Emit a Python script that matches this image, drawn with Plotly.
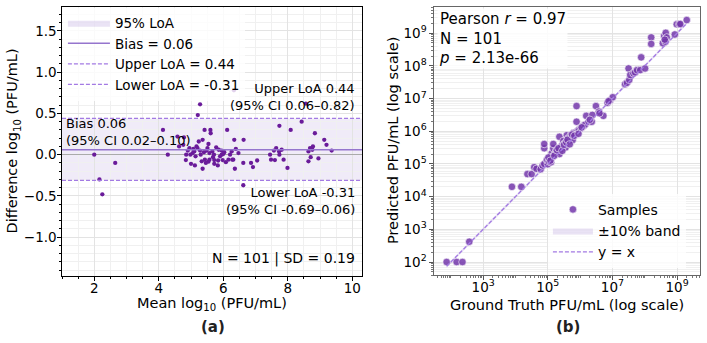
import plotly.graph_objects as go

# ---------------- Panel (a): Bland-Altman data ----------------
ba_mean = [2.00, 2.16, 2.25, 2.65, 4.13, 4.28, 4.58, 4.63, 4.76, 4.78, 4.84, 4.85, 4.90, 4.95,
           4.98, 5.00, 5.05, 5.07, 5.10, 5.12, 5.14, 5.17, 5.20, 5.21, 5.24, 5.28, 5.28, 5.30,
           5.33, 5.36, 5.36, 5.40, 5.42, 5.43, 5.46, 5.48, 5.51, 5.54, 5.54, 5.57, 5.57, 5.60,
           5.61, 5.66, 5.68, 5.71, 5.72, 5.72, 5.78, 5.83, 5.84, 5.86, 5.90, 5.95, 5.95, 5.98,
           6.03, 6.08, 6.12, 6.16, 6.21, 6.26, 6.28, 6.31, 6.33, 6.34, 6.36, 6.39, 6.47, 6.62,
           6.62, 6.63, 6.86, 6.92, 7.05, 7.45, 7.48, 7.57, 7.60, 7.64, 7.73, 7.74, 7.74, 7.81,
           7.87, 7.99, 8.09, 8.43, 8.56, 8.64, 8.64, 8.69, 8.71, 8.76, 8.78, 8.84, 8.95, 9.13,
           9.20, 9.36, 6.00]
ba_diff = [0.00, -0.30, -0.48, -0.10, 0.30, 0.00, 0.22, 0.10, 0.12, 0.21, -0.065, 0.00, 0.05, 0.08,
           0.00, -0.11, 0.02, 0.07, 0.04, -0.13, -0.02, 0.10, 0.08, 0.48, 0.16, 0.61, 0.05, 0.00,
           -0.08, 0.18, -0.17, 0.03, 0.30, -0.06, -0.10, 0.05, 0.08, 0.13, -0.085, 0.02, -0.06, 0.30,
           0.26, 0.04, -0.03, 0.00, -0.065, -0.11, 0.09, -0.13, -0.07, 0.06, -0.02, 0.05, 0.00, -0.065,
           0.03, -0.09, 0.30, -0.06, 0.00, 0.04, -0.06, -0.06, 0.78, 0.18, -0.17, 0.07, 0.02, -0.37,
           -0.10, 0.18, -0.10, -0.15, -0.07, 0.00, -0.06, 0.05, -0.065, 0.08, 0.04, 0.35, 0.00, 0.06,
           -0.06, -0.16, 0.30, 0.40, 0.62, 0.04, -0.08, 0.08, -0.03, 0.06, 0.10, 0.26, -0.045, 0.18,
           0.12, 0.05, 0.01]
bias = 0.06
upper_loa = 0.44
lower_loa = -0.31

# ---------------- Panel (b): scatter data (log10 PFU/mL) ----------------
gt_log10 = [1.87, 2.18, 2.36, 2.57, 3.89, 4.18, 4.37, 4.50, 4.58, 4.65, 4.78, 4.84, 4.89, 4.97,
            5.00, 5.03, 5.07, 5.10, 4.89, 4.89, 5.12, 5.15, 5.17, 5.17, 5.22, 5.26, 5.30, 5.36,
            5.36, 5.40, 5.43, 5.48, 5.52, 5.55, 5.59, 5.63, 5.66, 5.71, 5.74, 5.77, 5.80, 5.85,
            5.88, 5.93, 5.89, 5.89, 5.97, 6.02, 6.10, 6.15, 6.19, 6.26, 6.36, 6.38, 6.49, 6.58,
            6.72, 6.85, 6.93, 7.01, 6.88, 7.39, 7.45, 7.52, 7.50, 7.55, 7.65, 7.70, 7.76, 7.86,
            7.89, 8.01, 8.20, 8.20, 8.56, 8.60, 8.65, 8.68, 8.64, 8.62, 8.93, 8.99, 9.07, 9.10,
            9.30, 5.02, 5.08, 5.20, 5.28, 5.33, 5.45, 5.50, 5.57, 5.61, 5.68, 5.75, 5.82, 5.95,
            6.05, 6.30, 6.60]
pred_log10 = [2.00, 2.00, 2.00, 2.62, 4.30, 4.30, 4.69, 4.69, 4.90, 4.85, 4.84, 4.95, 5.00, 5.12,
              4.99, 5.08, 5.15, 5.05, 5.48, 5.61, 5.32, 5.22, 5.48, 5.61, 5.30, 5.40, 5.35, 5.30,
              5.83, 5.45, 5.55, 5.70, 5.62, 5.50, 5.88, 5.78, 5.70, 5.88, 5.82, 5.73, 5.95, 5.90,
              5.98, 6.01, 6.29, 6.77, 6.05, 6.08, 6.16, 6.20, 6.47, 6.29, 6.29, 6.50, 6.77, 6.60,
              6.47, 6.87, 6.95, 7.04, 6.92, 7.44, 7.48, 7.57, 7.92, 7.72, 7.77, 7.80, 7.87, 7.87,
              8.26, 7.92, 8.87, 8.67, 8.69, 8.91, 9.01, 8.87, 8.74, 8.80, 8.96, 9.27, 9.27, 9.28,
              9.40, 5.20, 5.10, 5.25, 5.42, 5.48, 5.40, 5.58, 5.66, 5.74, 5.60, 5.90, 5.86, 5.92,
              6.12, 6.35, 6.55]

gt = [10 ** v for v in gt_log10]
pred = [10 ** v for v in pred_log10]

x_ticks_a = [2, 4, 6, 8, 10]
y_ticks_a = [-1.0, -0.5, 0.0, 0.5, 1.0, 1.5]
x_tick_exp_b = [3, 5, 7, 9]
y_tick_exp_b = [2, 3, 4, 5, 6, 7, 8, 9]

FONT = "DejaVu Sans"
PURPLE_DARK = "#6a1b9a"
PURPLE_PT = "rgba(115,55,170,0.85)"
PURPLE_LINE = "#9575cd"
PURPLE_DASH = "#a37ae3"
BAND = "rgba(150,115,205,0.14)"
GRID = "#e3e3e3"
GRID_MINOR = "#f0f0f0"
DASH = "4px,2px"

fig = go.Figure()

# Panel (a)
fig.add_trace(go.Scatter(x=ba_mean, y=ba_diff, mode="markers", xaxis="x", yaxis="y",
                         marker=dict(color=PURPLE_DARK, size=4.3), showlegend=False))
# legend proxy for the LoA band (drawn below as a shape)
fig.add_trace(go.Scatter(x=[None], y=[None], mode="lines", fill="toself", fillcolor="rgba(150,115,205,0.2)",
                         line=dict(width=0, color="rgba(0,0,0,0)"), xaxis="x", yaxis="y",
                         name="95% LoA", legend="legend", legendrank=1))

fig.add_shape(type="rect", xref="x domain", yref="y", x0=0, x1=1, y0=lower_loa, y1=upper_loa,
              fillcolor=BAND, line=dict(width=0), layer="below")
fig.add_shape(type="line", xref="x domain", yref="y", x0=0, x1=1, y0=bias, y1=bias,
              line=dict(color=PURPLE_LINE, width=1.5),
              showlegend=True, name=f"Bias = {bias:.2f}", legend="legend", legendrank=2)
fig.add_shape(type="line", xref="x domain", yref="y", x0=0, x1=1, y0=upper_loa, y1=upper_loa,
              line=dict(color=PURPLE_DASH, width=1.2, dash=DASH),
              showlegend=True, name=f"Upper LoA = {upper_loa:.2f}", legend="legend", legendrank=3)
fig.add_shape(type="line", xref="x domain", yref="y", x0=0, x1=1, y0=lower_loa, y1=lower_loa,
              line=dict(color=PURPLE_DASH, width=1.2, dash=DASH),
              showlegend=True, name=f"Lower LoA = {lower_loa:.2f}", legend="legend", legendrank=4)

# Panel (b)
lo, hi = min(gt), max(gt)
fig.add_trace(go.Scatter(x=gt, y=pred, mode="markers", xaxis="x2", yaxis="y2", name="Samples",
                         marker=dict(color=PURPLE_PT, size=7.5, line=dict(color="white", width=0.6)),
                         legend="legend2"))
fig.add_trace(go.Scatter(x=[lo, hi, hi, lo, lo], y=[lo * 0.9, hi * 0.9, hi * 1.1, lo * 1.1, lo * 0.9],
                         mode="lines", fill="toself", fillcolor="rgba(150,115,205,0.2)",
                         line=dict(width=0, color="rgba(0,0,0,0)"), xaxis="x2", yaxis="y2",
                         name="±10% band", legend="legend2"))
fig.add_trace(go.Scatter(x=[lo, hi], y=[lo, hi], mode="lines", xaxis="x2", yaxis="y2",
                         line=dict(color=PURPLE_DASH, width=1.3, dash=DASH), name="y = x",
                         legend="legend2"))

tickfont = dict(family=FONT, size=13.5, color="black")
titlefont = dict(family=FONT, size=14.5, color="black")

fig.update_layout(
    width=707, height=343, margin=dict(l=0, r=0, t=0, b=0),
    paper_bgcolor="white", plot_bgcolor="white",
    font=dict(family=FONT, color="black"),
    xaxis=dict(domain=[0.0877, 0.512], anchor="y", range=[1, 10.3],
               tickvals=x_ticks_a, ticks="outside", ticklen=3.5, tickcolor="black",
               ticklabelstandoff=-4,
               showline=True, linecolor="black", linewidth=1.3, mirror=True,
               showgrid=True, gridcolor=GRID, gridwidth=0.8, zeroline=False,
               minor=dict(dtick=0.5, ticks="outside", ticklen=2, tickcolor="black",
                          showgrid=True, gridcolor=GRID_MINOR),
               tickfont=tickfont),
    yaxis=dict(domain=[0.1953, 0.9796], anchor="x", range=[-1.47, 1.79],
               tickvals=y_ticks_a, tickformat=".1f", ticks="outside", ticklen=3.5, tickcolor="black",
               ticklabelstandoff=-2,
               showline=True, linecolor="black", linewidth=1.3, mirror=True,
               showgrid=True, gridcolor=GRID, gridwidth=0.8,
               zeroline=True, zerolinecolor="#aaaaaa", zerolinewidth=1.2,
               minor=dict(dtick=0.1, ticks="outside", ticklen=2, tickcolor="black",
                          showgrid=True, gridcolor=GRID_MINOR),
               tickfont=tickfont),
    xaxis2=dict(domain=[0.6139, 0.9901], anchor="y2", type="log", range=[1.48, 9.71],
                tickvals=[10 ** e for e in x_tick_exp_b],
                ticktext=[f"10<sup>{e}</sup>" for e in x_tick_exp_b],
                ticks="outside", ticklen=3.5, tickcolor="#555",
                ticklabelstandoff=-4,
                showline=True, linecolor="#666", linewidth=1.3, mirror=True,
                showgrid=True, gridcolor=GRID, gridwidth=0.8, zeroline=False,
                minor=dict(dtick="D1", ticks="outside", ticklen=2, tickcolor="#777", showgrid=False),
                tickfont=tickfont),
    yaxis2=dict(domain=[0.198, 0.9796], anchor="x2", type="log", range=[1.6, 9.8],
                tickvals=[10 ** e for e in y_tick_exp_b],
                ticktext=[f"10<sup>{e}</sup>" for e in y_tick_exp_b],
                ticks="outside", ticklen=3.5, tickcolor="#555",
                showline=True, linecolor="#666", linewidth=1.3, mirror=True,
                showgrid=True, gridcolor=GRID, gridwidth=0.8, zeroline=False,
                minor=dict(dtick="D1", ticks="outside", ticklen=2, tickcolor="#777",
                           showgrid=True, gridcolor=GRID_MINOR),
                tickfont=tickfont),
    legend=dict(x=0.089, y=0.978, xanchor="left", yanchor="top", itemwidth=42,
                bgcolor="rgba(255,255,255,0.8)", borderwidth=0,
                font=dict(family=FONT, size=13.5, color="black"), tracegroupgap=0),
    legend2=dict(x=0.775, y=0.435, xanchor="left", yanchor="top", itemwidth=40,
                 bgcolor="rgba(255,255,255,0.8)", borderwidth=0,
                 font=dict(family=FONT, size=14, color="black"), tracegroupgap=0),
)

ann_font = dict(family=FONT, size=13, color="black")
fig.add_annotation(xref="x domain", yref="y", x=0.985, y=upper_loa, xanchor="right", yanchor="bottom",
                   yshift=3, showarrow=False, align="right", font=ann_font,
                   text=f"Upper LoA {upper_loa:.2f}<br>(95% CI 0.06–0.82)")
fig.add_annotation(xref="x domain", yref="y", x=0.006, y=bias, xanchor="left", yanchor="bottom",
                   yshift=0, showarrow=False, align="left", font=ann_font,
                   text=f"Bias {bias:.2f}<br>(95% CI 0.02–0.10)")
fig.add_annotation(xref="x domain", yref="y", x=0.985, y=lower_loa, xanchor="right", yanchor="top",
                   yshift=-3, showarrow=False, align="right", font=ann_font,
                   text=f"Lower LoA {lower_loa:.2f}<br>(95% CI -0.69–0.06)")
fig.add_annotation(xref="x domain", yref="y domain", x=0.985, y=0.025, xanchor="right", yanchor="bottom",
                   showarrow=False, font=dict(family=FONT, size=14, color="black"),
                   text="N = 101 | SD = 0.19")
fig.add_annotation(xref="x2 domain", yref="y2 domain", x=0.01, y=0.995, xanchor="left", yanchor="top",
                   showarrow=False, align="left", bgcolor="rgba(255,255,255,0.85)",
                   font=dict(family=FONT, size=15, color="black"),
                   text="Pearson <i>r</i> = 0.97<br>N = 101<br><i>p</i> = 2.13e-66")

# Axis titles
fig.add_annotation(xref="x domain", yref="paper", x=0.5, y=1 - 304 / 343, xanchor="center", yanchor="middle",
                   showarrow=False, font=titlefont, text="Mean log<sub>10</sub> (PFU/mL)")
fig.add_annotation(xref="paper", yref="y domain", x=13 / 707, y=0.5, xanchor="center", yanchor="middle",
                   textangle=-90, showarrow=False, font=titlefont, text="Difference log<sub>10</sub> (PFU/mL)")
fig.add_annotation(xref="x2 domain", yref="paper", x=0.5, y=1 - 305 / 343, xanchor="center", yanchor="middle",
                   showarrow=False, font=titlefont, text="Ground Truth PFU/mL (log scale)")
fig.add_annotation(xref="paper", yref="y2 domain", x=393 / 707, y=0.5, xanchor="center", yanchor="middle",
                   textangle=-90, showarrow=False, font=titlefont, text="Predicted PFU/mL (log scale)")

# Panel labels
fig.add_annotation(xref="paper", yref="paper", x=213 / 707, y=1 - 327 / 343, xanchor="center", yanchor="middle",
                   showarrow=False, font=dict(family=FONT, size=15, color="#222"), text="<b>(a)</b>")
fig.add_annotation(xref="paper", yref="paper", x=568 / 707, y=1 - 327 / 343, xanchor="center", yanchor="middle",
                   showarrow=False, font=dict(family=FONT, size=15, color="#222"), text="<b>(b)</b>")

fig.write_html("out.html")
